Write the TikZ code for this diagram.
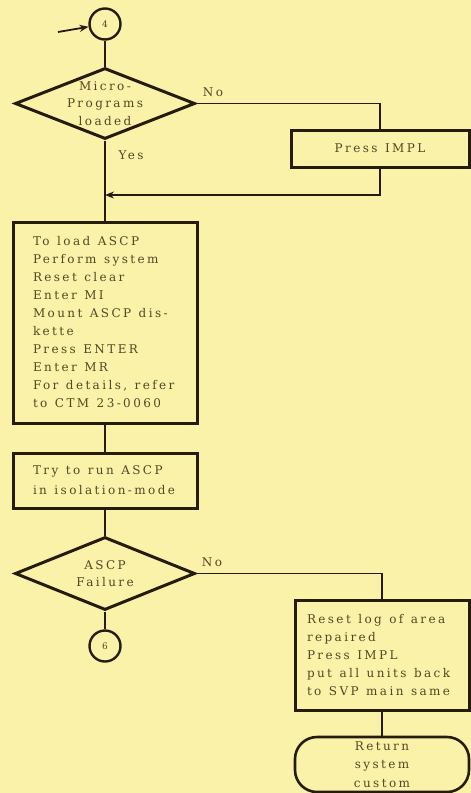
\documentclass[tikz,border=0pt]{standalone}
\usepackage{fontspec}
\setmainfont{DejaVu Serif}[LetterSpace=20]
\newcommand\ws{\kern7.5pt\relax}
\usetikzlibrary{shapes.geometric,arrows.meta}
\definecolor{paper}{RGB}{251,242,170}
\definecolor{ink}{RGB}{38,28,14}
\definecolor{txt}{RGB}{88,68,34}
\tikzset{
  base/.style={text=txt, font=\fontsize{12}{18}\selectfont, inner sep=0pt},
  stepbox/.style={base, draw=ink, line width=3pt},
  decide/.style={base, draw=ink, line width=3pt, diamond, align=center, inner sep=-22pt, font=\fontsize{12}{17.5}\selectfont},
  conn/.style={base, draw=ink, line width=2.4pt, circle, minimum size=31pt, font=\fontsize{9}{10}\selectfont},
  term/.style={base, draw=ink, line width=2.6pt, rounded corners=22pt, align=center, font=\fontsize{12}{18.5}\selectfont},
  flow/.style={draw=ink, line width=1.4pt},
  lbl/.style={base}
}
\begin{document}
\begin{tikzpicture}[x=1pt,y=-1pt]
\fill[paper] (0,0) rectangle (471,793);
\useasboundingbox (0,0) rectangle (471,793);
% connector 4
\node[conn] (c4) at (105,24) {4};
\coordinate (a0) at (58,32);
\draw[flow,line width=1.8pt,-{Stealth[length=9pt,width=7pt]}] (a0) -- (c4);
% decision 1
\node[decide, minimum width=180pt, minimum height=71pt] (d1) at (105,103.5) {Micro-\\Programs\\loaded};
\draw[flow] (c4) -- (d1.north);
\node[stepbox, minimum width=178pt, minimum height=37pt] (p1) at (380,148.5) {Press\ws IMPL};
\node[lbl] (no1) at (213,92) {No};
\draw[flow] (d1.east) -| (p1.north);
\coordinate (m1) at (105,195);
\draw[flow,-{Stealth[length=9pt,width=7pt]}] (p1.south) |- (m1);
% main box
\node[stepbox, minimum width=184pt, minimum height=201pt, text width=144pt, align=left] (b2) at (105,322.5)
 {To\ws load\ws ASCP\\Perform\ws system\\Reset\ws clear\\Enter\ws MI\\Mount\ws ASCP\ws dis-\\kette\\Press\ws ENTER\\Enter\ws MR\\For\ws details,\ws refer\\to\ws CTM\ws 23-0060};
\draw[flow] (d1.south) -- (b2.north);
\node[lbl] (yes1) at (131,155) {Yes};
\node[stepbox, minimum width=184pt, minimum height=55pt, text width=144pt, align=left, font=\fontsize{12}{20}\selectfont] (b3) at (105,480.5)
 {Try\ws to\ws run\ws ASCP\\in\ws isolation-mode};
\draw[flow] (b2) -- (b3);
% decision 2
\node[decide, minimum width=180pt, minimum height=73pt] (d2) at (105,573.5) {ASCP\\Failure};
\draw[flow] (b3) -- (d2.north);
\node[conn] (c6) at (105,646) {6};
\draw[flow] (d2.south) -- (c6);
\node[lbl] (no2) at (212,562) {No};
\node[stepbox, minimum width=174pt, minimum height=110pt, text width=150pt, align=left] (b4) at (382,655)
 {Reset\ws log\ws of\ws area\\repaired\\Press\ws IMPL\\put\ws all\ws units\ws back\\to\ws SVP\ws main\ws same};
\draw[flow] (d2.east) -| (b4.north);
\node[term, minimum width=174pt, minimum height=55pt] (t1) at (382,764.5) {Return\\system\\custom};
\draw[flow] (b4) -- (t1);
\end{tikzpicture}
\end{document}
